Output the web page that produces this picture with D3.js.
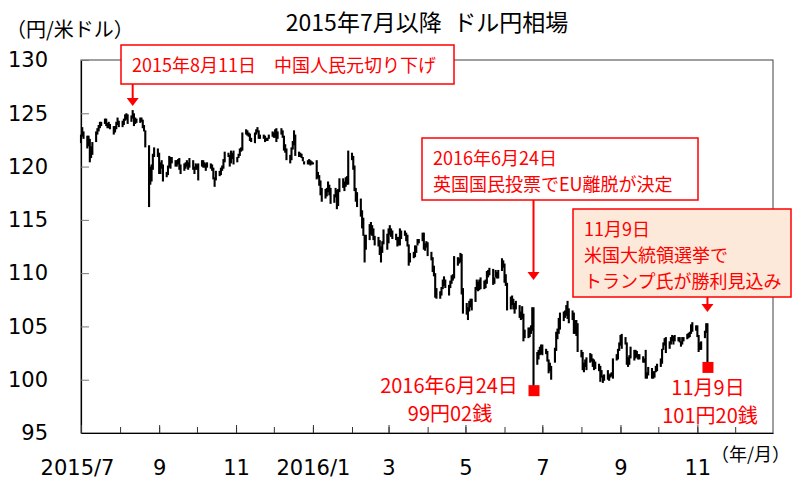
<!DOCTYPE html>
<html>
<head>
<meta charset="utf-8">
<script src="https://cdn.jsdelivr.net/npm/d3@7"></script>
<style>
  body { margin: 0; background: #fff; }
  svg { display: block; }
</style>
</head>
<body>
<div id="chart"></div>
<script>
// daily USD/JPY ranges, one value per weekday of each month
const months = ["2015-07","2015-08","2015-09","2015-10","2015-11","2015-12",
  "2016-01","2016-02","2016-03","2016-04","2016-05","2016-06",
  "2016-07","2016-08","2016-09","2016-10","2016-11"];

const lows = [
  [122.2,122.8,122.6,121.7,121.9,120.4,120.8,121.1,122.3,123.0,123.3,123.6,123.8,124.0,123.8,123.6,123.6,123.5,123.0,123.2,123.5,123.9,123.7],
  [123.7,123.9,124.3,124.4,124.0,124.2,124.5,123.8,124.0,124.1,124.1,124.2,123.6,123.3,121.8,116.2,118.3,118.6,119.7,120.9,120.9],
  [119.3,119.3,119.8,118.6,119.0,119.2,119.9,119.8,120.3,120.0,120.0,120.2,119.7,119.3,119.6,119.8,120.0,119.7,119.9,119.7,119.3,119.7],
  [119.7,118.7,120.0,119.9,119.9,119.6,119.9,119.8,119.6,118.8,118.1,118.7,119.1,119.2,119.6,119.8,120.4,120.9,120.0,120.3,120.7,120.2],
  [120.4,120.8,121.0,121.4,121.5,123.0,122.9,122.8,122.4,122.3,122.2,123.0,123.2,122.6,122.6,122.6,122.3,122.4,122.4,122.6,122.8],
  [122.7,122.7,122.3,122.6,123.0,122.7,121.5,121.3,120.6,120.3,120.6,121.6,122.0,121.0,120.9,120.9,120.8,120.5,120.2,120.2,120.2,120.1,120.2],
  [120.2,118.8,118.9,118.2,117.3,116.7,117.0,117.2,117.6,117.3,116.5,116.6,117.1,116.0,116.3,117.6,118.0,117.7,118.1,118.3,118.3],
  [120.6,119.7,117.7,116.7,116.2,115.3,114.2,113.5,111.0,112.2,113.1,113.6,113.5,113.1,112.6,112.5,111.7,111.0,111.9,112.7,112.2],
  [112.8,113.6,113.4,113.2,113.1,112.5,112.6,112.6,113.2,113.5,113.0,112.5,110.7,111.0,111.4,111.5,111.9,112.6,112.8,113.0,112.2,112.1,112.4],
  [111.6,111.2,110.1,109.7,107.7,107.6,107.6,107.9,108.5,108.8,108.6,107.9,108.6,109.0,109.3,109.5,110.7,110.9,111.0,108.0,106.2],
  [106.1,105.6,106.4,106.8,106.5,107.3,108.4,108.3,108.4,108.5,108.5,108.6,109.0,109.6,109.8,108.9,109.0,109.6,109.5,109.5,110.2,110.5],
  [109.1,108.8,106.5,106.6,107.0,106.6,106.2,106.6,105.8,105.6,105.7,103.6,103.9,103.9,104.0,104.3,104.6,99.02,101.4,101.9,102.3,102.4],
  [102.3,102.4,101.7,100.6,100.8,100.0,101.6,102.7,103.8,104.3,104.7,105.5,105.8,106.0,105.7,105.3,105.6,104.3,104.3,104.1,102.6],
  [102.1,100.9,100.7,101.2,100.9,101.6,101.7,101.2,100.9,101.0,100.8,99.8,100.2,99.7,99.9,100.0,99.9,100.2,100.3,100.1,101.8,101.9,102.7],
  [103.2,102.9,103.3,101.4,101.2,101.4,102.0,101.8,102.0,102.1,101.9,101.9,101.6,101.6,100.1,100.1,100.4,100.1,100.1,100.2,100.7,100.8],
  [101.2,101.5,102.8,103.2,102.5,102.9,103.3,103.6,103.3,103.6,103.6,103.5,103.1,103.3,103.6,103.8,103.9,104.0,104.3,104.5,104.6],
  [104.0,102.6,102.8,102.8,103.9,104.4,101.2]
];

const highs = [
  [123.0,123.7,123.3,122.9,122.9,122.6,121.9,122.3,123.3,123.6,123.9,124.2,124.2,124.5,124.5,124.1,124.2,124.0,123.8,123.8,124.2,124.6,124.3],
  [124.3,124.5,124.9,125.0,124.9,124.8,125.3,125.0,124.6,124.5,124.6,124.6,124.4,123.9,123.4,122.0,120.0,120.2,121.2,121.8,121.7],
  [121.3,120.4,120.6,120.2,119.5,120.1,121.0,120.9,120.9,120.6,120.6,120.7,120.8,120.2,120.3,120.4,120.6,120.4,120.8,120.6,120.0,120.3],
  [120.2,120.3,120.6,120.6,120.4,120.3,120.4,120.3,120.2,119.9,119.0,119.6,119.6,119.9,120.1,120.7,121.4,121.3,121.1,121.5,121.3,121.5],
  [120.9,121.2,121.7,121.8,123.2,123.5,123.4,123.2,123.1,122.7,123.2,123.5,123.7,123.4,123.0,123.0,122.9,122.7,122.7,123.0,123.3],
  [123.2,123.5,123.6,123.3,123.6,123.4,122.9,122.1,121.7,121.1,121.8,122.4,123.4,123.0,121.4,121.3,121.2,120.9,120.5,120.6,120.7,120.6,120.5],
  [120.4,120.6,119.5,119.2,118.7,118.0,117.9,118.0,118.6,118.3,118.0,117.4,118.0,117.8,117.9,118.9,118.9,118.6,119.0,119.1,121.5],
  [121.3,121.0,120.1,118.0,117.6,117.0,115.9,115.2,113.6,113.6,114.6,114.8,114.5,114.2,113.5,113.4,113.1,112.5,113.0,114.1,113.7],
  [114.2,114.5,114.2,114.0,113.7,113.4,113.4,114.2,114.0,114.0,113.8,113.6,112.7,111.9,112.0,112.6,112.6,113.2,113.2,113.8,113.8,112.8,113.0],
  [112.9,112.0,111.5,110.7,110.0,108.6,108.3,108.7,109.4,109.7,109.4,108.9,109.3,109.8,109.9,111.6,111.5,111.4,111.9,111.8,108.6],
  [107.2,106.8,107.4,107.6,107.6,108.7,109.4,109.2,109.4,109.6,109.3,109.4,110.2,110.3,110.5,110.4,109.6,110.3,110.1,110.3,111.4,111.2],
  [110.9,109.9,109.1,107.8,107.9,107.6,107.2,107.4,107.0,106.4,106.9,106.2,104.7,104.9,104.9,105.1,106.8,106.8,102.6,102.8,103.1,103.3],
  [103.3,102.9,102.7,101.9,101.6,101.3,103.0,104.5,104.8,105.8,106.3,106.4,106.5,107.0,107.4,106.7,106.5,106.3,105.6,105.6,105.3],
  [102.8,102.6,101.6,101.9,102.1,102.5,102.4,102.0,101.9,101.7,101.5,101.3,100.9,100.4,100.5,100.9,100.5,100.6,100.7,102.0,102.4,102.9,103.5],
  [104.2,104.3,104.0,103.5,102.1,102.3,103.1,102.8,102.8,102.7,102.4,102.4,102.2,102.0,102.8,100.7,101.2,101.1,100.8,100.8,101.3,101.5],
  [102.0,102.9,103.5,103.9,104.0,103.6,104.0,104.2,104.1,104.2,104.0,104.0,103.6,104.0,104.0,104.3,104.4,104.5,105.2,105.4,105.1],
  [105.1,104.2,103.5,103.6,104.6,105.3,105.3]
];

const yTicks = [95, 100, 105, 110, 115, 120, 125, 130];

const markDates = ["2016-06-24", "2016-11-09"];
const markValues = [99.02, 101.20];
const markLabels = [["2016年6月24日", "99円02銭"], ["11月9日", "101円20銭"]];

const eventDates = ["2015-08-11", "2016-06-24", "2016-11-09"];
const eventTexts = [
  ["2015年8月11日　中国人民元切り下げ"],
  ["2016年6月24日", "英国国民投票でEU離脱が決定"],
  ["11月9日", "米国大統領選挙で", "トランプ氏が勝利見込み"]
];

const width = 793, height = 479;
const margin = {top: 60, right: 20, bottom: 46, left: 81};
const jp = "'Noto Sans CJK JP', sans-serif";
const num = "'DejaVu Sans', sans-serif";

const parseMonth = d3.timeParse("%Y-%m");
const parseDay = d3.timeParse("%Y-%m-%d");

// build the daily rows: weekdays of each month paired with the values
const rows = [];
months.forEach((m, i) => {
  const start = parseMonth(m);
  const days = d3.timeDay.range(start, d3.timeMonth.offset(start, 1))
    .filter(d => d.getDay() !== 0 && d.getDay() !== 6);
  lows[i].forEach((lo, j) => rows.push({date: days[j], low: lo, high: highs[i][j]}));
});

const x = d3.scaleTime()
  .domain([new Date(2015, 6, 1), new Date(2016, 11, 31)])
  .range([margin.left, width - margin.right]);

const y = d3.scaleLinear()
  .domain([95, 130])
  .range([height - margin.bottom, margin.top]);

const svg = d3.select("#chart").append("svg")
  .attr("width", width)
  .attr("height", height);

// title + units
svg.append("text")
  .attr("x", 427).attr("y", 31)
  .attr("text-anchor", "middle")
  .attr("font-family", jp).attr("font-size", 23)
  .text("2015年7月以降\u2002ドル円相場");

svg.append("text")
  .attr("x", 6).attr("y", 37)
  .attr("font-family", jp).attr("font-size", 20)
  .text("（円/米ドル）");

svg.append("text")
  .attr("x", 711).attr("y", 461)
  .attr("font-family", jp).attr("font-size", 18)
  .text("（年/月）");

// frame
svg.append("rect")
  .attr("x", x.range()[0]).attr("y", y(130))
  .attr("width", x.range()[1] - x.range()[0])
  .attr("height", y(95) - y(130))
  .attr("fill", "none")
  .attr("stroke", "#404040");

// y axis
svg.append("g")
  .attr("transform", `translate(${margin.left},0)`)
  .call(d3.axisLeft(y).tickValues(yTicks).tickSize(-8).tickSizeOuter(0).tickPadding(33))
  .call(g => g.select(".domain").attr("stroke", "#000").attr("stroke-width", 1.2))
  .call(g => g.selectAll(".tick line").attr("stroke", "#777"))
  .call(g => g.selectAll(".tick text")
    .attr("font-family", num).attr("font-size", 21).attr("fill", "#000"));

// x axis: every month, then the labelled odd months
const allMonths = d3.timeMonth.range(new Date(2015, 6, 1), new Date(2017, 0, 1));
const oddMonths = allMonths.filter(d => (d.getMonth() + 1) % 2 === 1);
const fmtMonth = d => (d.getMonth() === 0 || (d.getFullYear() === 2015 && d.getMonth() === 6))
  ? `${d.getFullYear()}/${d.getMonth() + 1}` : `${d.getMonth() + 1}`;

svg.append("g")
  .attr("transform", `translate(0,${height - margin.bottom})`)
  .call(d3.axisBottom(x).tickValues(allMonths).tickSize(-6).tickSizeOuter(0).tickFormat(""))
  .call(g => g.select(".domain").attr("stroke", "#000").attr("stroke-width", 1.2))
  .call(g => g.selectAll(".tick line").attr("stroke", "#333"));

svg.append("g")
  .attr("transform", `translate(0,${height - margin.bottom})`)
  .call(d3.axisBottom(x).tickValues(oddMonths).tickSize(-8).tickSizeOuter(0).tickPadding(27).tickFormat(fmtMonth))
  .call(g => g.select(".domain").remove())
  .call(g => g.selectAll(".tick line").attr("stroke", "#333"))
  .call(g => g.selectAll(".tick text")
    .attr("font-family", num).attr("font-size", 21).attr("fill", "#000"))
  .call(g => g.select(".tick:first-of-type text").attr("dx", -4));

// daily high-low bars
svg.append("g")
  .selectAll("line")
  .data(rows)
  .join("line")
    .attr("x1", d => x(d.date)).attr("x2", d => x(d.date))
    .attr("y1", d => y(d.high)).attr("y2", d => y(d.low))
    .attr("stroke", "#000")
    .attr("stroke-width", 2.1);

// red markers + labels
const red = "#ff0000";
markDates.forEach((d, i) => {
  const cx = x(parseDay(d)), cy = y(markValues[i]);
  svg.append("rect")
    .attr("x", cx - 5).attr("y", cy - 5)
    .attr("width", 11).attr("height", 11)
    .attr("fill", red);
});

const markText = svg.append("g")
  .attr("font-family", jp).attr("font-size", 20).attr("fill", red)
  .attr("text-anchor", "middle");
markText.append("text").attr("x", 449).attr("y", 393).text(markLabels[0][0]);
markText.append("text").attr("x", 450).attr("y", 421).text(markLabels[0][1]);
markText.append("text").attr("x", 708).attr("y", 395).text(markLabels[1][0]);
markText.append("text").attr("x", 710).attr("y", 423).text(markLabels[1][1]);

// callout boxes
const boxes = [
  {x0: 121, y0: 45, x1: 454, y1: 84, fill: "#fff", tip: 106},
  {x0: 422, y0: 138, x1: 698, y1: 200, fill: "#fff", tip: 280},
  {x0: 573, y0: 209, x1: 791, y1: 297, fill: "#fde9d9", tip: 312}
];

boxes.forEach((b, i) => {
  svg.append("rect")
    .attr("x", b.x0).attr("y", b.y0)
    .attr("width", b.x1 - b.x0).attr("height", b.y1 - b.y0)
    .attr("fill", b.fill)
    .attr("stroke", red).attr("stroke-width", 1.5);

  const lines = eventTexts[i];
  svg.append("g")
    .attr("font-family", jp).attr("font-size", 18).attr("fill", red)
    .selectAll("text")
    .data(lines)
    .join("text")
      .attr("x", b.x0 + 11)
      .attr("y", (d, j) => lines.length === 1 ? 72 : b.y0 + 27 + j * 26)
      .text(d => d);

  const ax = x(parseDay(eventDates[i]));
  svg.append("line")
    .attr("x1", ax).attr("x2", ax)
    .attr("y1", b.y1).attr("y2", b.tip - 6)
    .attr("stroke", red).attr("stroke-width", 2);
  svg.append("path")
    .attr("d", `M${ax - 6},${b.tip - 8}L${ax + 6},${b.tip - 8}L${ax},${b.tip}Z`)
    .attr("fill", red);
});
</script>
</body>
</html>
